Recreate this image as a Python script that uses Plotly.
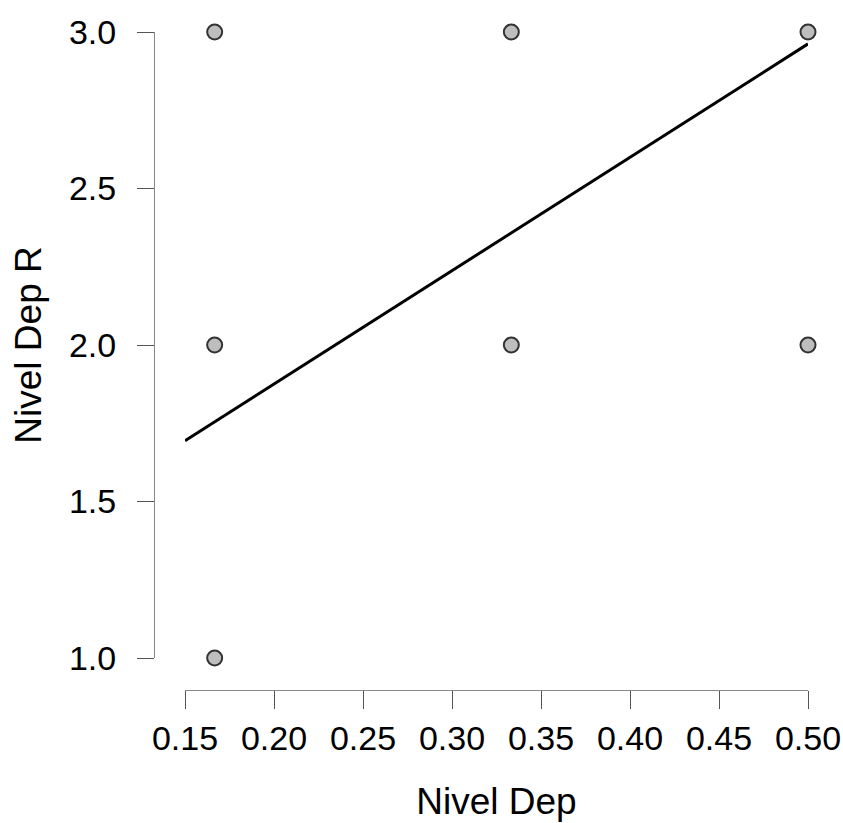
import plotly.graph_objects as go

# Data
x_vals = [1/6, 1/6, 1/6, 1/3, 1/3, 0.5, 0.5]
y_vals = [3, 2, 1, 3, 2, 3, 2]
fit_x = [0.15, 0.5]
fit_y = [1.694, 2.962]
x_ticks = [0.15, 0.20, 0.25, 0.30, 0.35, 0.40, 0.45, 0.50]
y_ticks = [1.0, 1.5, 2.0, 2.5, 3.0]

W, H = 843, 823
L, R, T, B = 154, 35, 32, 133
pw = W - L - R
ph = H - T - B
xd0 = 31 / pw
yd0 = 32 / ph

fig = go.Figure()
fig.add_trace(go.Scatter(x=fit_x, y=fit_y, mode="lines",
                         line=dict(color="black", width=3), cliponaxis=False,
                         showlegend=False, hoverinfo="skip"))
fig.add_trace(go.Scatter(x=x_vals, y=y_vals, mode="markers",
                         marker=dict(size=15, color="#bebebe",
                                     line=dict(color="#333333", width=2)),
                         cliponaxis=False, showlegend=False))

font = "Liberation Sans, Arial, sans-serif"
fig.update_layout(
    width=W, height=H,
    margin=dict(l=L, r=R, t=T, b=B, autoexpand=False),
    plot_bgcolor="white", paper_bgcolor="white",
    font=dict(family=font, color="black"),
    xaxis=dict(domain=[xd0, 1], range=[0.15, 0.5], anchor="free", position=0,
               automargin=False,
               tickvals=x_ticks, ticktext=[f"{v:.2f}" for v in x_ticks],
               ticks="outside", ticklen=18, tickwidth=1, tickcolor="#555555",
               showline=True, linecolor="#888888", linewidth=1,
               showgrid=False, zeroline=False,
               tickfont=dict(size=34, family=font),
               ticklabelstandoff=0,
               title=dict(text="Nivel Dep", font=dict(size=37, family=font), standoff=32)),
    yaxis=dict(domain=[yd0, 1], range=[1, 3], anchor="free", position=0,
               automargin=False,
               tickvals=y_ticks, ticktext=[f"{v:.1f}" for v in y_ticks],
               ticks="outside", ticklen=17, tickwidth=1, tickcolor="#555555",
               showline=True, linecolor="#888888", linewidth=1,
               showgrid=False, zeroline=False,
               tickfont=dict(size=34, family=font),
               ticklabelstandoff=14,
               title=dict(text="Nivel Dep R", font=dict(size=37, family=font), standoff=14)),
)

fig.write_html("out.html", config={"displayModeBar": False},
               post_script="document.body.style.margin='0';document.body.style.overflow='hidden';")
